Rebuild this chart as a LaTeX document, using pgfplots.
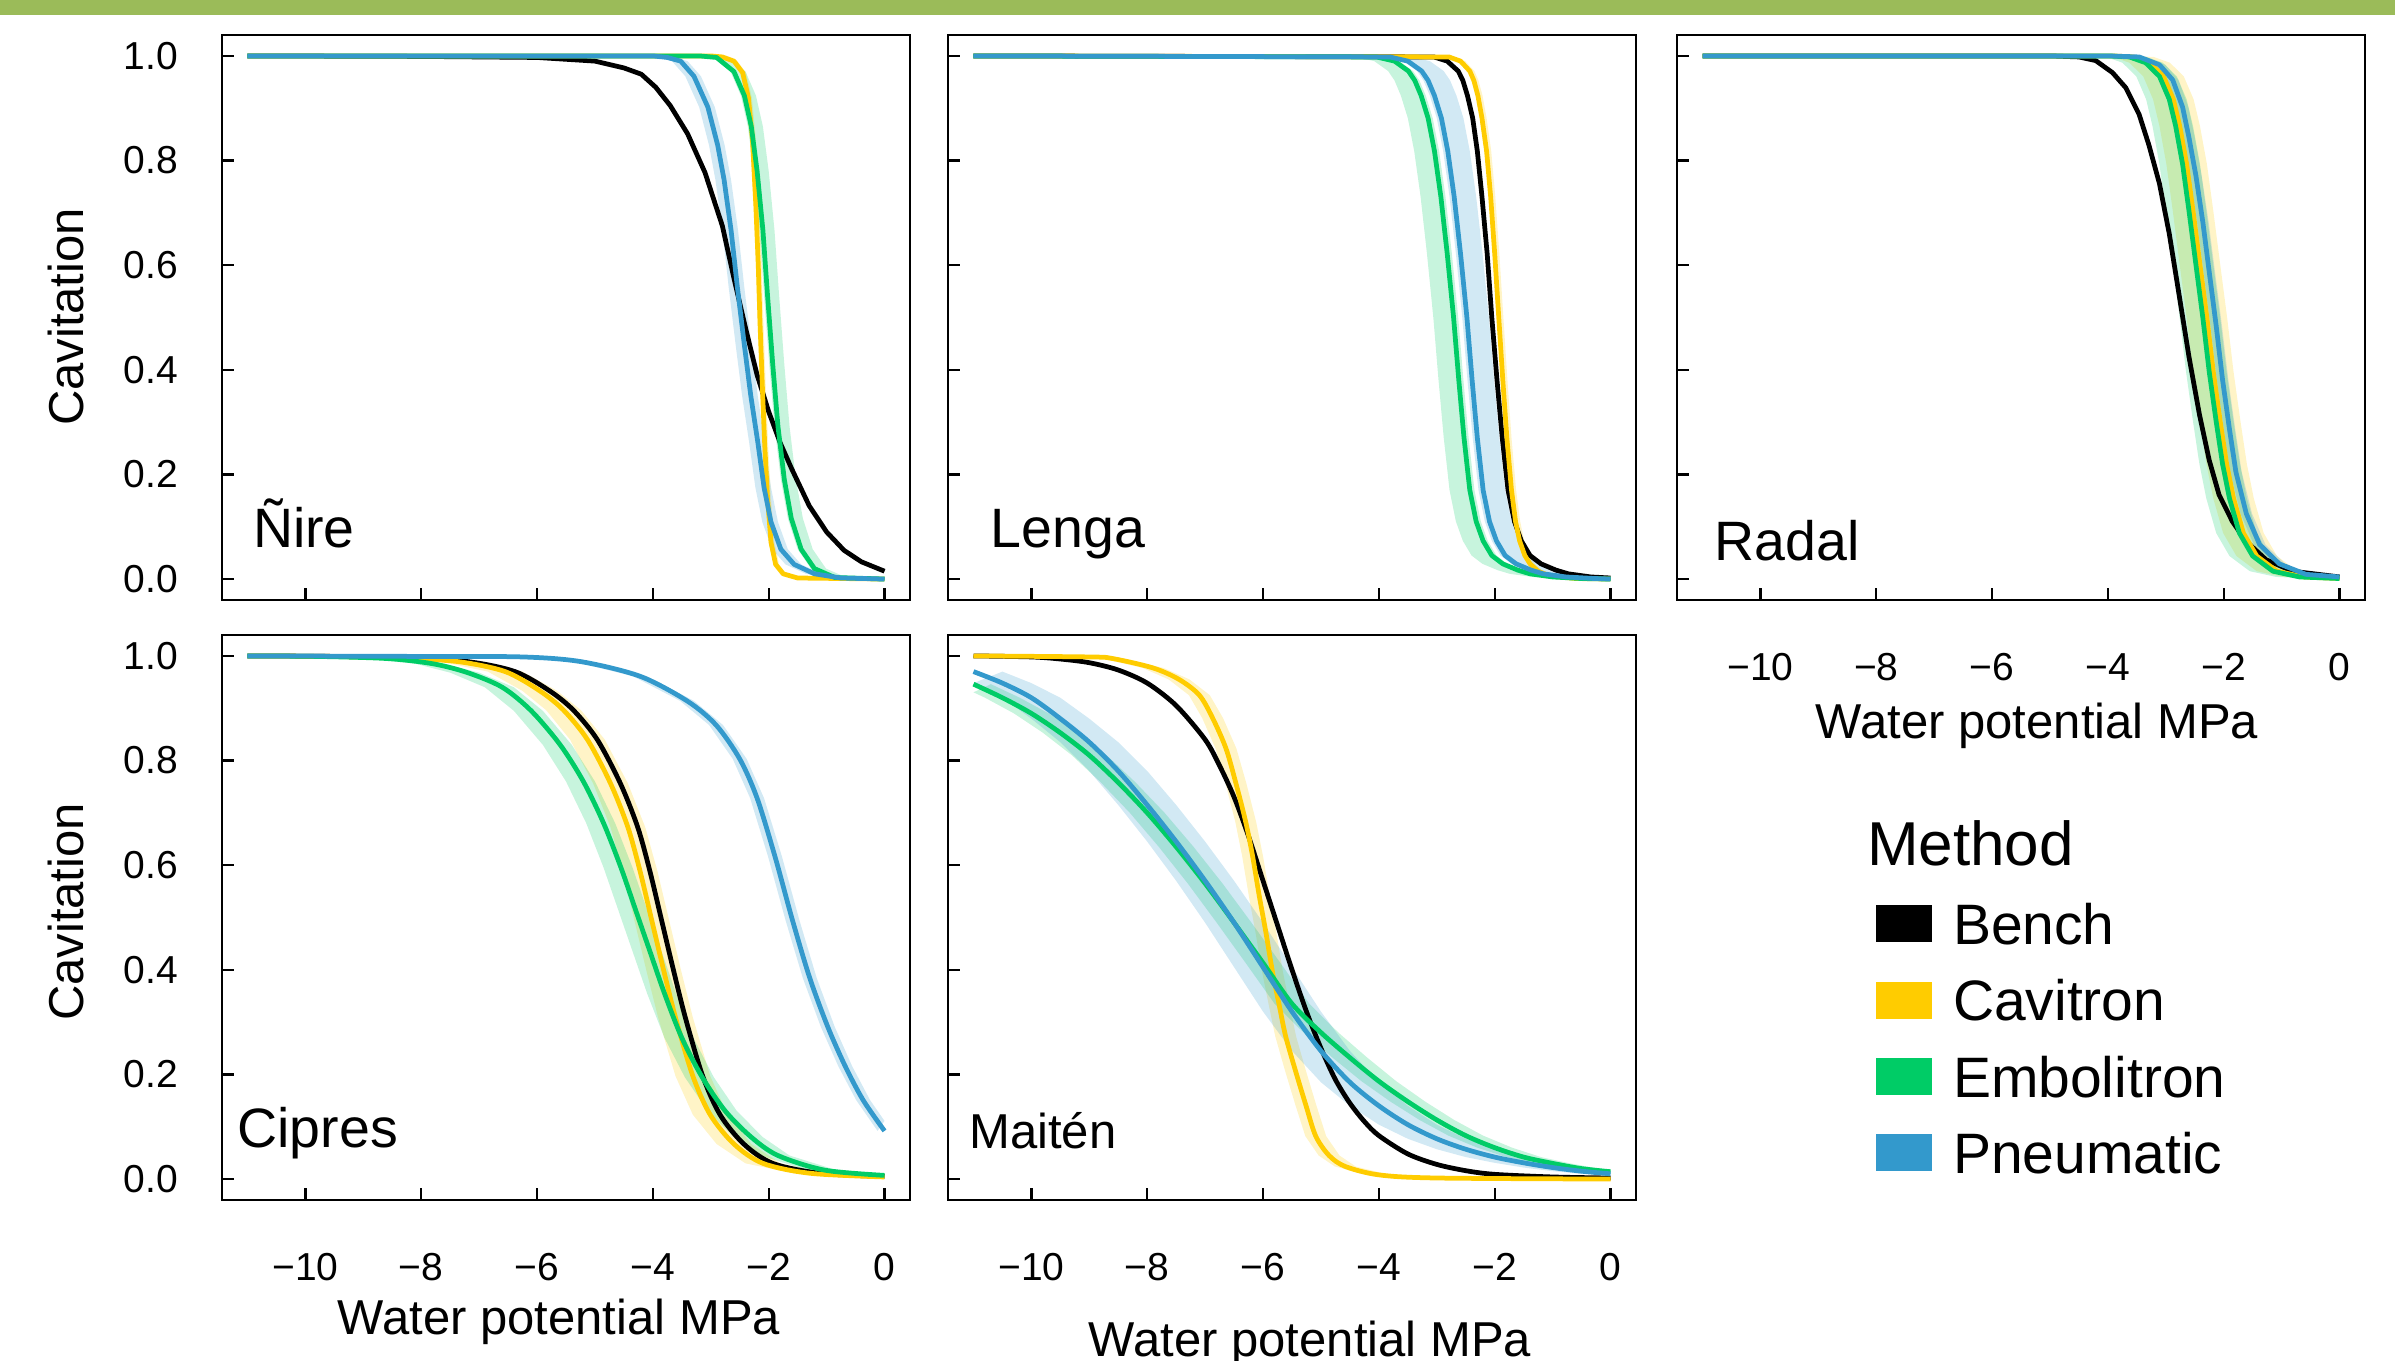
\documentclass[border=0pt]{standalone}
\usepackage{fontspec}
\setmainfont{Liberation Sans}
\usepackage{pgfplots}
\pgfplotsset{compat=1.18}
\usepackage{pgfplotstable}
\usepgfplotslibrary{fillbetween}

\definecolor{bench}{HTML}{000000}
\definecolor{cav}{HTML}{FFCC00}
\definecolor{emb}{HTML}{00CC66}
\definecolor{pne}{HTML}{3399CC}
\definecolor{topbar}{HTML}{9BBB59}

% ---------- Ñire ----------
\pgfplotstableread{
x y
-11 1.000
-8 0.999
-6 0.997
-5 0.990
-4.5 0.977
-4.2 0.965
-3.95 0.940
-3.7 0.905
-3.4 0.851
-3.1 0.777
-2.8 0.675
-2.6 0.575
-2.4 0.480
-2.2 0.390
-2.0 0.320
-1.8 0.260
-1.6 0.210
-1.3 0.140
-1.0 0.090
-0.7 0.055
-0.4 0.033
0 0.015
}\nireB
\pgfplotstableread{
x y xlo xhi
-11 1.000 -11.04 -10.94
-3.0 1.000 -3.04 -2.94
-2.8 0.998 -2.84 -2.74
-2.6 0.990 -2.64 -2.54
-2.45 0.968 -2.49 -2.39
-2.35 0.920 -2.39 -2.29
-2.28 0.840 -2.32 -2.22
-2.22 0.710 -2.26 -2.16
-2.18 0.600 -2.22 -2.12
-2.15 0.490 -2.19 -2.09
-2.11 0.370 -2.15 -2.05
-2.07 0.260 -2.11 -2.01
-2.02 0.155 -2.06 -1.96
-1.96 0.070 -2.00 -1.90
-1.88 0.028 -1.92 -1.82
-1.75 0.010 -1.79 -1.69
-1.5 0.002 -1.54 -1.44
0 0.000 -0.04 0.06
}\nireC
\pgfplotstableread{
x y xlo xhi
-11 1.000 -11.06 -10.80
-3.2 1.000 -3.26 -3.00
-2.9 0.997 -2.96 -2.70
-2.6 0.970 -2.66 -2.40
-2.42 0.924 -2.48 -2.22
-2.3 0.865 -2.36 -2.10
-2.2 0.780 -2.26 -2.00
-2.1 0.667 -2.16 -1.90
-2.02 0.542 -2.08 -1.82
-1.93 0.410 -1.99 -1.73
-1.84 0.292 -1.90 -1.64
-1.73 0.190 -1.79 -1.53
-1.61 0.116 -1.67 -1.41
-1.44 0.057 -1.50 -1.24
-1.21 0.020 -1.27 -1.01
-0.86 0.003 -0.92 -0.66
0 0.000 -0.06 0.20
}\nireE
\pgfplotstableread{
x y xlo xhi
-11 1.000 -11.15 -10.88
-4.0 1.000 -4.15 -3.88
-3.75 0.997 -3.90 -3.63
-3.52 0.990 -3.67 -3.40
-3.29 0.961 -3.44 -3.17
-3.05 0.902 -3.20 -2.93
-2.88 0.829 -3.03 -2.76
-2.77 0.763 -2.92 -2.65
-2.65 0.667 -2.80 -2.53
-2.54 0.557 -2.69 -2.42
-2.42 0.447 -2.57 -2.30
-2.31 0.351 -2.46 -2.19
-2.19 0.263 -2.34 -2.07
-2.08 0.175 -2.23 -1.96
-1.96 0.109 -2.11 -1.84
-1.79 0.057 -1.94 -1.67
-1.56 0.028 -1.71 -1.44
-1.21 0.010 -1.36 -1.09
-0.75 0.002 -0.90 -0.63
0 0.000 -0.15 0.12
}\nireP

% ---------- Lenga ----------
\pgfplotstableread{
x y
-11 1.000
-3.05 0.998
-2.82 0.990
-2.63 0.971
-2.55 0.953
-2.47 0.924
-2.38 0.881
-2.30 0.818
-2.22 0.731
-2.13 0.622
-2.05 0.500
-1.96 0.380
-1.87 0.270
-1.77 0.170
-1.66 0.110
-1.54 0.073
-1.39 0.045
-1.20 0.029
-0.94 0.017
-0.73 0.010
-0.34 0.004
0 0.002
}\lengaB
\pgfplotstableread{
x y xlo xhi
-11 1.000 -11.03 -10.92
-2.79 0.998 -2.82 -2.71
-2.59 0.990 -2.62 -2.51
-2.43 0.971 -2.46 -2.35
-2.36 0.953 -2.39 -2.28
-2.29 0.924 -2.32 -2.21
-2.22 0.881 -2.25 -2.14
-2.14 0.818 -2.17 -2.06
-2.07 0.731 -2.10 -1.99
-2.00 0.622 -2.03 -1.92
-1.93 0.500 -1.96 -1.85
-1.86 0.380 -1.89 -1.78
-1.79 0.270 -1.82 -1.71
-1.71 0.170 -1.74 -1.63
-1.64 0.110 -1.67 -1.56
-1.57 0.073 -1.60 -1.49
-1.48 0.045 -1.51 -1.40
-1.39 0.029 -1.42 -1.31
-1.25 0.015 -1.28 -1.17
-1.05 0.006 -1.08 -0.97
-0.60 0.001 -0.63 -0.52
0 0.000 -0.03 0.08
}\lengaC
\pgfplotstableread{
x y xlo xhi
-11 1.000 -11.35 -10.92
-4.04 0.998 -4.39 -3.96
-3.73 0.990 -4.08 -3.65
-3.49 0.971 -3.84 -3.41
-3.38 0.953 -3.73 -3.30
-3.27 0.924 -3.62 -3.19
-3.15 0.881 -3.50 -3.07
-3.04 0.818 -3.39 -2.96
-2.93 0.731 -3.28 -2.85
-2.82 0.622 -3.17 -2.74
-2.71 0.500 -3.06 -2.63
-2.62 0.380 -2.97 -2.54
-2.53 0.270 -2.88 -2.45
-2.43 0.170 -2.78 -2.35
-2.32 0.110 -2.67 -2.24
-2.20 0.073 -2.55 -2.12
-2.05 0.045 -2.40 -1.97
-1.86 0.029 -2.21 -1.78
-1.60 0.017 -1.95 -1.52
-1.39 0.010 -1.74 -1.31
-1.00 0.004 -1.35 -0.92
-0.50 0.001 -0.85 -0.42
0 0.000 -0.35 0.08
}\lengaE
\pgfplotstableread{
x y xlo xhi
-11 1.000 -11.08 -10.62
-3.81 0.998 -3.89 -3.43
-3.50 0.990 -3.58 -3.12
-3.26 0.971 -3.34 -2.88
-3.15 0.953 -3.23 -2.77
-3.04 0.924 -3.12 -2.66
-2.92 0.881 -3.00 -2.54
-2.81 0.818 -2.89 -2.43
-2.70 0.731 -2.78 -2.32
-2.59 0.622 -2.67 -2.21
-2.48 0.500 -2.56 -2.10
-2.39 0.380 -2.47 -2.01
-2.30 0.270 -2.38 -1.92
-2.20 0.170 -2.28 -1.82
-2.09 0.110 -2.17 -1.71
-1.97 0.073 -2.05 -1.59
-1.82 0.045 -1.90 -1.44
-1.63 0.029 -1.71 -1.25
-1.37 0.017 -1.45 -0.99
-1.16 0.010 -1.24 -0.78
-0.77 0.004 -0.85 -0.39
-0.27 0.001 -0.35 0.11
0 0.000 -0.08 0.38
}\lengaP

% ---------- Radal ----------
\pgfplotstableread{
x y
-11 1.000
-5 1.000
-4.5 0.998
-4.21 0.991
-3.92 0.968
-3.69 0.939
-3.46 0.888
-3.29 0.829
-3.11 0.756
-2.94 0.660
-2.77 0.543
-2.60 0.425
-2.42 0.315
-2.25 0.227
-2.08 0.161
-1.85 0.110
-1.62 0.073
-1.27 0.037
-0.81 0.015
0 0.004
}\radalB
\pgfplotstableread{
x y xlo xhi
-11 1.000 -11.35 -10.65
-3.93 1.000 -4.28 -3.58
-3.56 0.998 -3.91 -3.21
-3.28 0.987 -3.63 -2.93
-3.04 0.961 -3.39 -2.69
-2.87 0.917 -3.22 -2.52
-2.76 0.866 -3.11 -2.41
-2.64 0.793 -2.99 -2.29
-2.53 0.704 -2.88 -2.18
-2.41 0.601 -2.76 -2.06
-2.29 0.499 -2.64 -1.94
-2.18 0.396 -2.53 -1.83
-2.06 0.301 -2.41 -1.71
-1.95 0.220 -2.30 -1.60
-1.83 0.154 -2.18 -1.48
-1.66 0.088 -2.01 -1.31
-1.43 0.044 -1.78 -1.08
-1.08 0.015 -1.43 -0.73
-0.62 0.004 -0.97 -0.27
0 0.001 -0.35 0.35
}\radalC
\pgfplotstableread{
x y xlo xhi
-11 1.000 -11.40 -10.70
-4.0 1.000 -4.40 -3.70
-3.63 0.998 -4.03 -3.33
-3.35 0.987 -3.75 -3.05
-3.11 0.961 -3.51 -2.81
-2.94 0.917 -3.34 -2.64
-2.83 0.866 -3.23 -2.53
-2.71 0.793 -3.11 -2.41
-2.60 0.704 -3.00 -2.30
-2.48 0.601 -2.88 -2.18
-2.36 0.499 -2.76 -2.06
-2.25 0.396 -2.65 -1.95
-2.13 0.301 -2.53 -1.83
-2.02 0.220 -2.42 -1.72
-1.90 0.154 -2.30 -1.60
-1.73 0.088 -2.13 -1.43
-1.50 0.044 -1.90 -1.20
-1.15 0.015 -1.55 -0.85
-0.69 0.004 -1.09 -0.39
0 0.001 -0.40 0.30
}\radalE
\pgfplotstableread{
x y xlo xhi
-11 1.000 -11.10 -10.90
-4.0 1.000 -4.10 -3.90
-3.46 0.998 -3.56 -3.36
-3.11 0.983 -3.21 -3.01
-2.88 0.954 -2.98 -2.78
-2.71 0.902 -2.81 -2.61
-2.60 0.844 -2.70 -2.50
-2.48 0.771 -2.58 -2.38
-2.36 0.682 -2.46 -2.26
-2.25 0.587 -2.35 -2.15
-2.13 0.484 -2.23 -2.03
-2.02 0.381 -2.12 -1.92
-1.90 0.286 -2.00 -1.80
-1.79 0.205 -1.89 -1.69
-1.61 0.125 -1.71 -1.51
-1.38 0.066 -1.48 -1.28
-1.04 0.029 -1.14 -0.94
-0.58 0.009 -0.68 -0.48
0 0.004 -0.10 0.10
}\radalP

% ---------- Cipres ----------
\pgfplotstableread{
x y
-11 1.000
-9.5 0.999
-8.21 0.996
-7.19 0.989
-6.38 0.970
-5.78 0.933
-5.37 0.896
-4.96 0.840
-4.56 0.756
-4.26 0.672
-4.05 0.588
-3.85 0.495
-3.65 0.402
-3.44 0.309
-3.14 0.197
-2.84 0.123
-2.43 0.067
-1.93 0.030
-1.11 0.011
0 0.005
}\cipB
\pgfplotstableread{
x y xlo xhi
-11 1.000 -11.30 -10.70
-9.5 0.999 -9.80 -9.20
-8.38 0.996 -8.68 -8.08
-7.36 0.989 -7.66 -7.06
-6.55 0.970 -6.85 -6.25
-5.95 0.933 -6.25 -5.65
-5.54 0.896 -5.84 -5.24
-5.13 0.840 -5.43 -4.83
-4.73 0.756 -5.03 -4.43
-4.43 0.672 -4.73 -4.13
-4.22 0.588 -4.52 -3.92
-4.02 0.495 -4.32 -3.72
-3.82 0.402 -4.12 -3.52
-3.61 0.309 -3.91 -3.31
-3.31 0.197 -3.61 -3.01
-3.01 0.123 -3.31 -2.71
-2.60 0.067 -2.90 -2.30
-2.10 0.030 -2.40 -1.80
-1.28 0.011 -1.58 -0.98
0 0.004 -0.30 0.30
}\cipC
\pgfplotstableread{
x y xlo xhi
-11 1.000 -11.30 -10.80
-9.8 0.999 -10.10 -9.60
-8.6 0.995 -8.90 -8.40
-7.8 0.985 -8.10 -7.60
-7.2 0.968 -7.50 -7.00
-6.6 0.940 -6.90 -6.40
-6.1 0.895 -6.40 -5.90
-5.6 0.830 -5.90 -5.40
-5.2 0.760 -5.50 -5.00
-4.85 0.680 -5.15 -4.65
-4.55 0.595 -4.85 -4.35
-4.3 0.515 -4.60 -4.10
-4.05 0.435 -4.35 -3.85
-3.8 0.355 -4.10 -3.60
-3.5 0.270 -3.80 -3.30
-3.15 0.195 -3.45 -2.95
-2.75 0.130 -3.05 -2.55
-2.3 0.080 -2.60 -2.10
-1.84 0.045 -2.14 -1.64
-1.03 0.017 -1.33 -0.83
0 0.007 -0.30 0.20
}\cipE
\pgfplotstableread{
x y xlo xhi
-11 1.000 -11.12 -10.88
-8 0.999 -8.12 -7.88
-6.25 0.998 -6.37 -6.13
-5.24 0.989 -5.36 -5.12
-4.22 0.961 -4.34 -4.10
-3.41 0.914 -3.53 -3.29
-2.91 0.868 -3.03 -2.79
-2.50 0.803 -2.62 -2.38
-2.20 0.728 -2.32 -2.08
-1.89 0.616 -2.01 -1.77
-1.59 0.495 -1.71 -1.47
-1.29 0.384 -1.41 -1.17
-0.98 0.291 -1.10 -0.86
-0.68 0.216 -0.80 -0.56
-0.37 0.151 -0.49 -0.25
0 0.092 -0.12 0.12
}\cipP

% ---------- Maitén ----------
\pgfplotstableread{
x y
-11 1.000
-10 0.998
-9.5 0.994
-9 0.987
-8.5 0.973
-8 0.948
-7.5 0.905
-7 0.840
-6.75 0.790
-6.5 0.730
-6.25 0.655
-6 0.570
-5.75 0.485
-5.5 0.400
-5.25 0.320
-5 0.250
-4.75 0.190
-4.5 0.145
-4.25 0.110
-4 0.083
-3.5 0.048
-3 0.028
-2.5 0.016
-2 0.009
-1 0.004
0 0.002
}\maiB
\pgfplotstableread{
x y xlo xhi
-11 1.000 -11.18 -10.82
-9 0.998 -9.18 -8.82
-8.6 0.995 -8.78 -8.42
-7.9 0.977 -8.08 -7.72
-7.45 0.955 -7.63 -7.27
-7.1 0.925 -7.28 -6.92
-6.87 0.881 -7.05 -6.69
-6.64 0.823 -6.82 -6.46
-6.47 0.757 -6.65 -6.29
-6.30 0.683 -6.48 -6.12
-6.18 0.617 -6.36 -6.00
-6.07 0.544 -6.25 -5.89
-5.95 0.471 -6.13 -5.77
-5.84 0.398 -6.02 -5.66
-5.72 0.332 -5.90 -5.54
-5.61 0.273 -5.79 -5.43
-5.44 0.207 -5.62 -5.26
-5.26 0.141 -5.44 -5.08
-5.09 0.082 -5.27 -4.91
-4.86 0.045 -5.04 -4.68
-4.58 0.024 -4.76 -4.40
-4.0 0.008 -4.18 -3.82
-3.0 0.002 -3.18 -2.82
0 0.000 -0.18 0.18
}\maiC
\pgfplotstableread{
x y xlo xhi
-11 0.946 -11.30 -10.70
-10.5 0.920 -10.80 -10.20
-10 0.890 -10.30 -9.70
-9.5 0.853 -9.80 -9.20
-9 0.810 -9.30 -8.70
-8.5 0.758 -8.80 -8.20
-8 0.700 -8.30 -7.70
-7.5 0.635 -7.80 -7.20
-7 0.565 -7.30 -6.70
-6.5 0.490 -6.80 -6.20
-6 0.413 -6.30 -5.70
-5.5 0.335 -5.80 -5.20
-5 0.280 -5.30 -4.70
-4.5 0.232 -4.80 -4.20
-4 0.187 -4.30 -3.70
-3.5 0.148 -3.80 -3.20
-3 0.113 -3.30 -2.70
-2.5 0.083 -2.80 -2.20
-2 0.060 -2.30 -1.70
-1.5 0.042 -1.80 -1.20
-1 0.030 -1.30 -0.70
-0.5 0.020 -0.80 -0.20
0 0.014 -0.30 0.30
}\maiE
\pgfplotstableread{
x y xlo xhi
-11 0.970 -11.50 -10.50
-10.5 0.948 -11.00 -10.00
-10 0.920 -10.50 -9.50
-9.5 0.880 -10.00 -9.00
-9 0.835 -9.50 -8.50
-8.5 0.780 -9.00 -8.00
-8 0.715 -8.50 -7.50
-7.5 0.645 -8.00 -7.00
-7 0.570 -7.50 -6.50
-6.5 0.490 -7.00 -6.00
-6 0.405 -6.50 -5.50
-5.5 0.320 -6.00 -5.00
-5 0.245 -5.50 -4.50
-4.5 0.185 -5.00 -4.00
-4 0.140 -4.50 -3.50
-3.5 0.104 -4.00 -3.00
-3 0.077 -3.50 -2.50
-2.5 0.057 -3.00 -2.00
-2 0.042 -2.50 -1.50
-1.5 0.031 -2.00 -1.00
-1 0.022 -1.50 -0.50
-0.5 0.015 -1.00 0.00
0 0.010 -0.50 0.50
}\maiP

\pgfplotsset{
  panel/.style={
    scale only axis, width=137.6pt, height=113pt,
    xmin=-11.44, xmax=0.44, ymin=-0.04, ymax=1.04,
    xtick={-10,-8,-6,-4,-2,0}, ytick={0,0.2,0.4,0.6,0.8,1},
    xtick pos=lower, ytick pos=left, tick align=inside,
    major tick length=2.4pt,
    axis line style={line width=0.45pt},
    tick style={black, line width=0.45pt},
    xticklabels={}, yticklabels={},
    every tick label/.append style={font=\fontsize{7.8}{9}\selectfont},
    every x tick label/.append style={anchor=base, inner sep=0pt, yshift=-16.1pt},
    every y tick label/.append style={anchor=east, inner sep=0pt, xshift=-8.6pt},
  },
  xlab/.style={xticklabels={−10,−8,−6,−4,−2,0}},
  ylab/.style={yticklabels={0.0,0.2,0.4,0.6,0.8,1.0}},
  crv/.style={line width=0.95pt, line join=round},
}

% band between the left and right edge columns of a table
\newcommand{\band}[3]{%
  \addplot[name path=lo#3, draw=none, forget plot] table[x=xlo, y=y] {#1};
  \addplot[name path=hi#3, draw=none, forget plot] table[x=xhi, y=y] {#1};
  \addplot[fill=#2, fill opacity=0.22, draw=none, forget plot]
    fill between[of=lo#3 and hi#3, soft clip={domain=-11:0}];
}
% the four lines of a panel (optional argument: extra line options)
\newcommand{\curves}[5][]{%
  \addplot[crv, bench, #1] table[x=x, y=y] {#2};
  \addplot[crv, cav, #1] table[x=x, y=y] {#3};
  \addplot[crv, emb, #1] table[x=x, y=y] {#4};
  \addplot[crv, pne, #1] table[x=x, y=y] {#5};
}

\begin{document}
\begin{tikzpicture}[every node/.append style={inner sep=0pt}]
\fill[topbar] (0,269.1pt) rectangle (479pt,272.2pt);

% --- Ñire ---
\begin{axis}[panel, ylab, at={(44.4pt,152.2pt)}]
  \band{\nireC}{cav}{a}
  \band{\nireE}{emb}{b}
  \band{\nireP}{pne}{c}
  \curves{\nireB}{\nireC}{\nireE}{\nireP}
  \node[anchor=base west, font=\fontsize{11.1}{12}\selectfont] at (axis cs:-10.92,0.06) {Ñire};
\end{axis}

% --- Lenga ---
\begin{axis}[panel, at={(189.6pt,152.2pt)}]
  \band{\lengaC}{cav}{a}
  \band{\lengaE}{emb}{b}
  \band{\lengaP}{pne}{c}
  \curves{\lengaB}{\lengaC}{\lengaE}{\lengaP}
  \node[anchor=base west, font=\fontsize{11.1}{12}\selectfont] at (axis cs:-10.72,0.06) {Lenga};
\end{axis}

% --- Radal ---
\begin{axis}[panel, xlab, at={(335.4pt,152.2pt)}]
  \band{\radalC}{cav}{a}
  \band{\radalE}{emb}{b}
  \band{\radalP}{pne}{c}
  \curves{\radalB}{\radalC}{\radalE}{\radalP}
  \node[anchor=base west, font=\fontsize{11.1}{12}\selectfont] at (axis cs:-10.81,0.035) {Radal};
\end{axis}

% --- Cipres ---
\begin{axis}[panel, xlab, ylab, at={(44.4pt,32.2pt)}]
  \band{\cipC}{cav}{a}
  \band{\cipE}{emb}{b}
  \band{\cipP}{pne}{c}
  \curves[smooth, tension=0.5]{\cipB}{\cipC}{\cipE}{\cipP}
  \node[anchor=base west, font=\fontsize{11.1}{12}\selectfont] at (axis cs:-11.19,0.061) {Cipres};
\end{axis}

% --- Maitén ---
\begin{axis}[panel, xlab, at={(189.6pt,32.2pt)}]
  \band{\maiC}{cav}{a}
  \band{\maiE}{emb}{b}
  \band{\maiP}{pne}{c}
  \curves[smooth, tension=0.5]{\maiB}{\maiC}{\maiE}{\maiP}
  \node[anchor=base west, font=\fontsize{9.8}{11}\selectfont] at (axis cs:-11.09,0.058) {Maitén};
\end{axis}

% --- axis titles ---
\begin{scope}[font=\fontsize{9.8}{11}\selectfont]
  \node[rotate=90, anchor=base] at (16.8pt,208.8pt) {Cavitation};
  \node[rotate=90, anchor=base] at (16.8pt,89.8pt) {Cavitation};
  \node[anchor=base] at (407.4pt,124.4pt) {Water potential MPa};
  \node[anchor=base] at (111.8pt,5.2pt) {Water potential MPa};
  \node[anchor=base] at (262pt,0.8pt) {Water potential MPa};
\end{scope}

% --- legend ---
\node[anchor=base west, font=\fontsize{12.4}{13}\selectfont] at (373.2pt,99pt) {Method};
\begin{scope}[font=\fontsize{11.4}{12}\selectfont]
  \fill[bench] (375.1pt,83.7pt) rectangle (386.4pt,91.1pt);
  \node[anchor=base west] at (390.4pt,83.3pt) {Bench};
  \fill[cav] (375.1pt,68.4pt) rectangle (386.4pt,75.8pt);
  \node[anchor=base west] at (390.4pt,68pt) {Cavitron};
  \fill[emb] (375.1pt,53.1pt) rectangle (386.4pt,60.5pt);
  \node[anchor=base west] at (390.4pt,52.7pt) {Embolitron};
  \fill[pne] (375.1pt,37.9pt) rectangle (386.4pt,45.3pt);
  \node[anchor=base west] at (390.4pt,37.5pt) {Pneumatic};
\end{scope}

% page is exactly the reference frame
\pgfresetboundingbox
\useasboundingbox (0,0) rectangle (479pt,272.2pt);
\end{tikzpicture}
\end{document}
